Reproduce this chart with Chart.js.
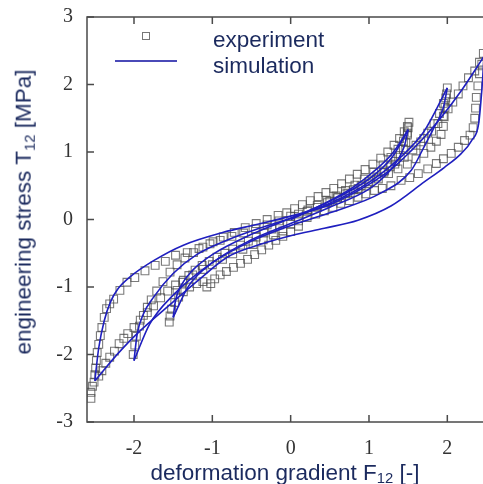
<!DOCTYPE html>
<html lang="en">
<head>
    <meta charset="UTF-8">
    <title>Shear stress vs deformation gradient</title>
    <script src="https://cdn.jsdelivr.net/npm/chart.js"></script>
    <style>
        html, body { margin: 0; padding: 0; overflow: hidden; background: #fff; }
        #wrap { position: relative; width: 497px; height: 484px; }
        .txt { position: absolute; font-family: "Liberation Sans", Arial, sans-serif; font-size: 22.5px; color: #1b2a5e; white-space: nowrap; line-height: 1; }
        .txt sub { font-size: 0.66em; vertical-align: -0.25em; }
        #tituloY { left: 25px; top: 212px; transform: translate(-50%, -50%) rotate(-90deg); }
        #tituloX { left: 285px; top: 474px; transform: translate(-50%, -50%); }
        #legQuad { position: absolute; left: 142px; top: 32px; width: 6px; height: 6px; border: 1px solid #777; }
        #legLinha { position: absolute; left: 115px; top: 60px; width: 62px; height: 2px; background: #4a4ab8; }
    </style>
</head>

<body>
    <div id="wrap">
        <canvas id="grafico" width="497" height="484"></canvas>
        <div id="legQuad"></div>
        <div class="txt" style="left:213px; top:29px;">experiment</div>
        <div id="legLinha"></div>
        <div class="txt" style="left:213px; top:55px;">simulation</div>
        <div class="txt" id="tituloY">engineering stress T<sub>12</sub> [MPa]</div>
        <div class="txt" id="tituloX">deformation gradient F<sub>12</sub> [-]</div>
    </div>

<script>
    // ticks dos eixos
    const xTicks = [-2, -1, 0, 1, 2];
    const yTicks = [-3, -2, -1, 0, 1, 2, 3];

    // simulacao - cada ramo do ciclo, ordenado por x
    const simInicio = [[0, 0], [0.4, 0.22], [0.8, 0.48], [1.1, 0.75], [1.3, 0.98], [1.5, 1.33]];
    const simA_sobe = [[-1.5, -1.45], [-1.47, -1.2], [-1.4, -0.98], [-1.25, -0.75], [-1.0, -0.52], [-0.5, -0.22], [0, 0.02], [0.5, 0.27], [1.0, 0.6], [1.3, 0.93], [1.5, 1.33]];
    const simA_desce = [[-1.5, -1.45], [-1.3, -0.98], [-1.0, -0.64], [-0.5, -0.3], [0, -0.06], [0.5, 0.18], [1.0, 0.45], [1.2, 0.64], [1.35, 0.85], [1.45, 1.08], [1.5, 1.33]];
    const simB_sobe = [[-2.0, -2.09], [-1.96, -1.7], [-1.88, -1.4], [-1.75, -1.15], [-1.5, -0.8], [-1.2, -0.52], [-0.8, -0.3], [-0.4, -0.13], [0, 0.02], [0.5, 0.24], [1.0, 0.55], [1.4, 0.92], [1.7, 1.3], [2.0, 1.95]];
    const simB_desce = [[-2.0, -2.09], [-1.8, -1.55], [-1.5, -1.12], [-1.0, -0.64], [-0.5, -0.32], [0, -0.09], [0.5, 0.1], [1.15, 0.39], [1.54, 0.73], [1.7, 1.07], [1.83, 1.36], [1.95, 1.66], [2.0, 1.95]];
    const simC_sobe = [[-2.5, -2.39], [-2.45, -1.9], [-2.38, -1.5], [-2.3, -1.22], [-2.2, -1.02], [-2.05, -0.85], [-1.75, -0.61], [-1.37, -0.38], [-0.86, -0.19], [-0.42, -0.07], [0, 0.05], [0.5, 0.22], [1.0, 0.52], [1.3, 0.76], [1.54, 1.02], [1.7, 1.21], [1.92, 1.51], [2.18, 1.91], [2.47, 2.42]];
    const simC_desce = [[-2.5, -2.39], [-2.2, -1.98], [-1.96, -1.69], [-1.5, -1.22], [-1.2, -0.92], [-0.81, -0.56], [-0.5, -0.41], [0, -0.24], [0.43, -0.13], [0.86, -0.01], [1.28, 0.2], [1.71, 0.56], [1.96, 0.77], [2.18, 0.98], [2.31, 1.17], [2.4, 1.42], [2.44, 1.91], [2.47, 2.42]];

    const expEsqFora = [[-2.55, -2.65], [-2.55, -2.56], [-2.53, -2.47], [-2.51, -2.41], [-2.5, -2.3], [-2.49, -2.2], [-2.48, -2.09], [-2.47, -1.97], [-2.45, -1.85], [-2.43, -1.72], [-2.41, -1.6], [-2.38, -1.45], [-2.35, -1.32], [-2.31, -1.25], [-2.26, -1.18], [-2.18, -1.05], [-2.09, -0.93], [-1.99, -0.86], [-1.86, -0.76], [-1.73, -0.68], [-1.6, -0.62], [-1.47, -0.53], [-1.32, -0.49], [-1.17, -0.43], [-1.03, -0.36], [-0.9, -0.31], [-0.75, -0.25], [-0.6, -0.2], [-0.45, -0.14], [-0.3, -0.08], [-0.15, -0.02], [0, 0.05]];
    const expEsqDiag = [[-2.45, -2.32], [-2.41, -2.24], [-2.36, -2.13], [-2.31, -2.04], [-2.25, -1.95], [-2.19, -1.84], [-2.13, -1.76], [-2.08, -1.69], [-2.0, -1.6], [-1.92, -1.49], [-1.83, -1.38], [-1.75, -1.28], [-1.66, -1.16], [-1.57, -1.06], [-1.47, -0.97], [-1.37, -0.9], [-1.25, -0.82], [-1.12, -0.74], [-1.0, -0.67], [-0.87, -0.59], [-0.74, -0.51], [-0.61, -0.44], [-0.48, -0.37], [-0.35, -0.3], [-0.22, -0.23], [-0.1, -0.17]];
    const expSobeB = [[-2.01, -2.0], [-1.99, -1.86], [-1.97, -1.73], [-1.93, -1.58], [-1.88, -1.42], [-1.83, -1.3], [-1.78, -1.19], [-1.71, -1.06], [-1.63, -0.92], [-1.54, -0.78], [-1.45, -0.67], [-1.35, -0.57], [-1.24, -0.49], [-1.12, -0.41], [-0.99, -0.33], [-0.86, -0.26], [-0.72, -0.19], [-0.58, -0.12], [-0.44, -0.06], [-0.3, 0.0], [-0.16, 0.06]];
    const expPontaA = [[-1.55, -1.52], [-1.54, -1.43], [-1.52, -1.33], [-1.48, -1.23], [-1.43, -1.15], [-1.37, -1.07], [-1.29, -1.0], [-1.2, -0.95], [-1.12, -0.92], [-1.07, -1.0], [-1.02, -0.95], [-0.97, -0.88], [-0.9, -0.82], [-0.82, -0.77], [-0.73, -0.71], [-0.64, -0.65], [-0.55, -0.59], [-0.46, -0.52], [-0.37, -0.45], [-0.28, -0.38], [-0.19, -0.31], [-0.1, -0.25], [0, -0.18], [0.1, -0.1]];
    const expSobeA = [[-1.45, -1.05], [-1.38, -0.93], [-1.3, -0.83], [-1.22, -0.75], [-1.13, -0.68], [-1.04, -0.62], [-0.94, -0.56], [-0.84, -0.5], [-0.74, -0.44], [-0.64, -0.38], [-0.54, -0.32], [-0.44, -0.26], [-0.34, -0.2], [-0.24, -0.14], [-0.14, -0.08]];
    const expDirA1 = [[-0.05, 0.1], [0.05, 0.16], [0.15, 0.22], [0.25, 0.28], [0.35, 0.34], [0.45, 0.4], [0.55, 0.46], [0.65, 0.53], [0.75, 0.6], [0.85, 0.67], [0.95, 0.74], [1.05, 0.82], [1.15, 0.91], [1.24, 1.0], [1.32, 1.1], [1.39, 1.2], [1.45, 1.3], [1.49, 1.38], [1.51, 1.44]];
    const expDirA2 = [[0.1, 0.08], [0.22, 0.14], [0.34, 0.21], [0.46, 0.28], [0.58, 0.35], [0.7, 0.43], [0.82, 0.51], [0.94, 0.6], [1.06, 0.7], [1.18, 0.81], [1.28, 0.92], [1.37, 1.04], [1.44, 1.16], [1.49, 1.28]];
    const expDesceA = [[1.5, 1.36], [1.49, 1.25], [1.47, 1.14], [1.44, 1.04], [1.4, 0.95], [1.34, 0.86], [1.27, 0.78], [1.19, 0.7], [1.1, 0.63], [1.0, 0.56], [0.9, 0.5], [0.8, 0.44], [0.7, 0.38], [0.6, 0.33], [0.5, 0.27]];
    const expSobeB2 = [[1.2, 0.72], [1.33, 0.82], [1.45, 0.92], [1.56, 1.03], [1.66, 1.15], [1.75, 1.28], [1.83, 1.42], [1.9, 1.57], [1.95, 1.72], [1.99, 1.86], [2.0, 1.95]];
    const expDesceB = [[1.98, 1.8], [1.97, 1.66], [1.96, 1.52], [1.95, 1.38], [1.92, 1.26], [1.86, 1.16], [1.79, 1.07], [1.7, 0.98], [1.6, 0.9], [1.49, 0.82], [1.37, 0.75], [1.25, 0.68], [1.12, 0.6], [0.99, 0.53], [0.86, 0.46], [0.73, 0.39], [0.6, 0.32], [0.47, 0.25], [0.34, 0.18], [0.21, 0.12]];
    const expDiagC = [[1.6, 1.1], [1.7, 1.2], [1.8, 1.31], [1.88, 1.42], [1.95, 1.53], [2.01, 1.64], [2.07, 1.74], [2.14, 1.86], [2.2, 1.98], [2.27, 2.1], [2.35, 2.2], [2.41, 2.33], [2.46, 2.46]];
    const expDesceC = [[2.44, 2.3], [2.41, 2.16], [2.39, 1.98], [2.37, 1.81], [2.36, 1.65], [2.35, 1.5], [2.33, 1.36], [2.29, 1.25], [2.22, 1.17], [2.14, 1.07], [2.05, 0.98], [1.95, 0.9], [1.86, 0.83], [1.75, 0.75], [1.63, 0.68], [1.52, 0.62], [1.41, 0.58], [1.28, 0.5], [1.17, 0.46], [1.07, 0.43], [0.96, 0.38], [0.86, 0.33], [0.75, 0.28], [0.64, 0.24], [0.54, 0.18], [0.43, 0.13], [0.32, 0.08], [0.21, 0.03], [0.1, -0.02], [0, -0.07]];

    const corEixo = '#4a4a4a';
    const corSim = '#1f1fbf';

    const ramosSim = [simInicio, simA_sobe, simA_desce, simB_sobe, simB_desce, simC_sobe, simC_desce];
    const faixasExp = [expEsqFora, expEsqDiag, expSobeB, expPontaA, expSobeA, expDirA1, expDirA2, expDesceA, expSobeB2, expDesceB, expDiagC, expDesceC];

    function paraPontos(lista) {
        return lista.map(function (p) { return { x: p[0], y: p[1] }; });
    }

    let datasets = [];
    datasets.push({
        label: 'experiment',
        data: paraPontos([].concat(...faixasExp)),
        showLine: false,
        pointStyle: 'rect',
        pointRadius: 5.5,
        pointBorderWidth: 1.1,
        pointBorderColor: 'rgba(70,70,70,0.72)',
        pointBackgroundColor: 'rgba(0,0,0,0)',
        order: 2
    });
    ramosSim.forEach(function (r) {
        datasets.push({
            label: 'simulation',
            data: paraPontos(r),
            showLine: true,
            borderColor: corSim,
            borderWidth: 1.6,
            pointRadius: 0,
            cubicInterpolationMode: 'monotone',
            order: 1
        });
    });

    // moldura com ticks para dentro (o lado direito fica fora da janela)
    const molduraPlugin = {
        id: 'moldura',
        afterDatasetsDraw(chart) {
            const { ctx, chartArea: a, scales: { x, y } } = chart;
            ctx.save();
            ctx.strokeStyle = corEixo;
            ctx.lineWidth = 1.5;
            ctx.strokeRect(a.left, a.top, a.right - a.left, a.bottom - a.top);
            ctx.beginPath();
            x.ticks.forEach(function (t) {
                const px = x.getPixelForValue(t.value);
                ctx.moveTo(px, a.bottom); ctx.lineTo(px, a.bottom - 7);
                ctx.moveTo(px, a.top); ctx.lineTo(px, a.top + 7);
            });
            y.ticks.forEach(function (t) {
                const py = y.getPixelForValue(t.value);
                ctx.moveTo(a.left, py); ctx.lineTo(a.left + 7, py);
                ctx.moveTo(a.right, py); ctx.lineTo(a.right - 7, py);
            });
            ctx.stroke();
            ctx.restore();
        }
    };

    const fonteTick = { family: '"Liberation Serif", "Times New Roman", serif', size: 20 };

    new Chart(document.getElementById('grafico'), {
        type: 'scatter',
        data: { datasets: datasets },
        options: {
            responsive: false,
            animation: false,
            layout: { padding: { top: 17, right: 0, left: 0, bottom: 0 } },
            plugins: { legend: { display: false }, tooltip: { enabled: false } },
            scales: {
                x: {
                    type: 'linear', min: -2.6, max: 2.55,
                    grid: { display: false, drawTicks: false },
                    border: { display: false },
                    afterBuildTicks: function (s) { s.ticks = xTicks.map(function (v) { return { value: v }; }); },
                    afterFit: function (s) { s.height = 62; s.paddingLeft = 0; s.paddingRight = 0; },
                    ticks: { color: '#333', font: fonteTick, padding: 15, maxRotation: 0 }
                },
                y: {
                    type: 'linear', min: -3, max: 3,
                    grid: { display: false, drawTicks: false },
                    border: { display: false },
                    afterBuildTicks: function (s) { s.ticks = yTicks.map(function (v) { return { value: v }; }); },
                    afterFit: function (s) { s.width = 87; s.paddingTop = 0; s.paddingBottom = 0; },
                    ticks: { color: '#333', font: fonteTick, padding: 14 }
                }
            }
        },
        plugins: [molduraPlugin]
    });
</script>
</body>
</html>
